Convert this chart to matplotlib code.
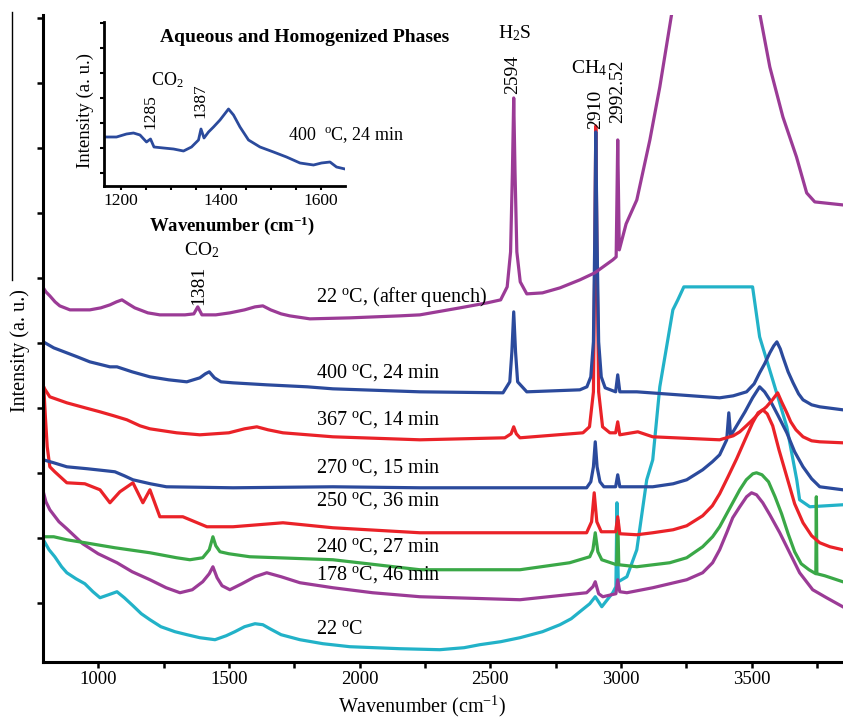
import matplotlib
matplotlib.use('Agg')
import matplotlib.pyplot as plt
from matplotlib.lines import Line2D

plt.rcParams['font.family'] = ['Liberation Serif', 'DejaVu Serif']
plt.rcParams['mathtext.fontset'] = 'custom'
plt.rcParams['mathtext.rm'] = 'Liberation Serif'
plt.rcParams['mathtext.it'] = 'Liberation Serif:italic'
plt.rcParams['mathtext.bf'] = 'Liberation Serif:bold'

# ---------------- data (wavenumber cm-1, intensity a.u.) ----------------
wn_quench = [790, 800, 815, 835, 853, 892, 968, 1010, 1045, 1070, 1091, 1115, 1140, 1190, 1236, 1332,
             1366, 1381, 1397, 1450, 1504, 1560, 1600, 1630, 1660, 1700, 1733, 1810, 1963, 2154,
             2231, 2384, 2488, 2540, 2565, 2578, 2585, 2590, 2595, 2602, 2615, 2640, 2700, 2767,
             2843, 2900, 2969, 2982, 2988, 2994, 3020, 3061, 3111, 3149, 3195, 3300, 3400, 3480,
             3531, 3570, 3620, 3672, 3711, 3742, 3849]
int_quench = [374, 370, 366, 360, 356, 352, 352, 354, 357, 360, 362, 358, 354, 349, 347, 347,
              348, 355, 347, 347, 349, 352, 355, 356, 352, 348, 346, 343, 344, 346,
              347, 354, 359, 362, 375, 410, 490, 564, 490, 410, 380, 368, 369, 374,
              382, 389, 402, 405, 522, 412, 438, 462, 522, 575, 649, 850, 900, 800,
              649, 595, 545, 505, 469, 460, 457]

wn_b400 = [790, 830, 880, 920, 968, 1045, 1072, 1130, 1198, 1270, 1339, 1389, 1410, 1425, 1445,
           1470, 1516, 1645, 1800, 1898, 2231, 2549, 2575, 2583, 2590, 2597, 2605, 2640, 2843,
           2870, 2885, 2895, 2900, 2904, 2909, 2915, 2925, 2940, 2980, 2988, 2996, 3061, 3378,
           3430, 3481, 3510, 3531, 3550, 3570, 3585, 3597, 3610, 3620, 3640, 3659, 3680, 3697,
           3730, 3761, 3849]
int_b400 = [320, 314, 309, 305, 300, 295, 295, 290, 285, 282, 280, 284, 288, 290, 284,
            280, 279, 277, 275, 273, 270, 269, 280, 310, 350, 310, 280, 270, 272,
            275, 285, 320, 420, 530, 420, 320, 285, 274, 270, 287, 270, 270, 264,
            266, 270, 278, 289, 298, 309, 316, 320, 313, 305, 290, 279, 268, 262,
            257, 255, 252]

wn_r367 = [790, 815, 880, 950, 1007, 1060, 1110, 1160, 1198, 1300, 1389, 1500, 1560, 1607, 1650,
           1707, 1898, 2231, 2556, 2580, 2590, 2600, 2614, 2855, 2880, 2895, 2900, 2904, 2909,
           2915, 2930, 2958, 2980, 2988, 2996, 3065, 3122, 3378, 3430, 3455, 3480, 3504, 3530,
           3557, 3580, 3600, 3615, 3635, 3650, 3670, 3697, 3730, 3761, 3849]
int_r367 = [275, 265, 259, 254, 250, 246, 242, 236, 233, 229, 227, 229, 233, 235, 232,
            229, 225, 222, 224, 228, 235, 228, 224, 229, 235, 270, 400, 536, 400,
            270, 235, 229, 229, 240, 227, 230, 225, 222, 226, 230, 236, 242, 249,
            255, 262, 269, 260, 249, 240, 232, 225, 221, 220, 219]

wn_b270 = [790, 830, 880, 960, 1030, 1064, 1100, 1133, 1200, 1261, 1516, 1898, 2231, 2869, 2885,
           2895, 2902, 2909, 2920, 2935, 2980, 2988, 2996, 3122, 3200, 3252, 3313, 3350, 3378,
           3405, 3413, 3420, 3443, 3475, 3504, 3531, 3550, 3570, 3600, 3635, 3665, 3697, 3730,
           3761, 3849]
int_b270 = [202, 199, 195, 193, 191, 190, 186, 182, 178, 175, 174, 175, 174, 174, 180,
            195, 220, 195, 180, 175, 175, 187, 175, 175, 178, 182, 192, 200, 207,
            222, 249, 226, 236, 250, 264, 275, 270, 262, 247, 229, 210, 195, 183,
            175, 172]

wn_r250 = [792, 798, 805, 815, 834, 880, 949, 1007, 1045, 1083, 1133, 1171, 1198, 1236, 1324,
           1416, 1516, 1707, 1898, 2231, 2869, 2888, 2898, 2908, 2925, 2980, 2988, 2996, 3061,
           3122, 3200, 3252, 3313, 3350, 3378, 3410, 3443, 3475, 3504, 3525, 3543, 3560, 3581,
           3605, 3635, 3665, 3697, 3730, 3761, 3800, 3849]
int_r250 = [274, 245, 215, 195, 190, 179, 178, 172, 159, 170, 179, 159, 172, 145, 145,
            135, 135, 139, 134, 129, 129, 140, 169, 140, 130, 130, 145, 128, 127,
            129, 132, 136, 146, 156, 168, 185, 203, 222, 239, 249, 252, 248, 236,
            212, 185, 158, 139, 126, 119, 115, 112]

wn_g240 = [790, 830, 880, 950, 1064, 1198, 1300, 1351, 1400, 1425, 1439, 1450, 1466, 1500, 1580,
           1898, 2231, 2614, 2804, 2881, 2893, 2902, 2912, 2927, 2984, 2988, 2992, 3061, 3187,
           3252, 3313, 3351, 3378, 3405, 3430, 3455, 3480, 3505, 3519, 3540, 3565, 3590, 3615,
           3640, 3665, 3690, 3720, 3746, 3748, 3750, 3780, 3849]
int_g240 = [125, 125, 122, 119, 114, 109, 104, 102, 104, 112, 125, 116, 110, 108, 105,
            102, 92, 92, 99, 105, 112, 129, 110, 102, 97, 142, 97, 95, 99,
            104, 115, 125, 135, 148, 160, 172, 182, 188, 189, 187, 180, 165, 148,
            128, 110, 98, 92, 88, 165, 88, 86, 80]

wn_p178 = [790, 800, 815, 850, 880, 941, 1000, 1072, 1130, 1198, 1260, 1313, 1360, 1400, 1425,
           1439, 1455, 1474, 1504, 1550, 1600, 1645, 1700, 1772, 1898, 2050, 2231, 2614, 2869,
           2893, 2902, 2915, 2931, 2981, 2988, 2996, 3023, 3122, 3252, 3313, 3351, 3378, 3405,
           3428, 3455, 3481, 3500, 3519, 3543, 3570, 3608, 3646, 3684, 3734, 3787, 3849]
int_p178 = [170, 160, 152, 140, 133, 118, 108, 99, 90, 82, 74, 69, 72, 80, 88,
            95, 84, 76, 72, 78, 85, 89, 85, 79, 74, 69, 65, 62, 69,
            75, 80, 68, 65, 68, 82, 70, 69, 74, 82, 89, 99, 112, 129,
            144, 155, 165, 169, 167, 159, 147, 129, 109, 89, 72, 64, 55]

wn_c22 = [790, 812, 834, 860, 880, 915, 949, 980, 1007, 1040, 1072, 1100, 1133, 1165, 1198,
          1240, 1294, 1340, 1389, 1447, 1490, 1523, 1560, 1600, 1630, 1657, 1700, 1772, 1860,
          1963, 2154, 2307, 2400, 2460, 2540, 2614, 2700, 2767, 2810, 2843, 2881, 2902, 2927,
          2969, 2981, 2985, 2990, 3023, 3061, 3099, 3122, 3149, 3199, 3218, 3241, 3504, 3531,
          3581, 3635, 3673, 3684, 3723, 3849]
int_c22 = [122, 112, 105, 95, 89, 83, 78, 70, 64, 67, 70, 64, 56, 48, 42,
           35, 30, 27, 24, 22, 26, 30, 35, 38, 37, 33, 27, 22, 18,
           15, 13, 12, 14, 17, 20, 24, 30, 37, 43, 50, 58, 65, 55,
           69, 75, 159, 80, 85, 112, 182, 202, 275, 352, 362, 375, 375, 325,
           282, 235, 182, 162, 155, 157]

# inset: 400 C, 24 min, CO2 region
wn_inset = [1169, 1192, 1212, 1226, 1239, 1252, 1260, 1267, 1286, 1306, 1326, 1342, 1356, 1361,
            1367, 1376, 1386, 1399, 1416, 1426, 1439, 1456, 1479, 1506, 1532, 1559, 1586, 1602,
            1619, 1632, 1649]
int_inset = [49, 49, 52, 53, 51, 44, 47, 39, 38, 37, 35, 39, 46, 57,
             48, 54, 59, 66, 77, 71, 59, 46, 39, 34, 29, 23, 21, 23,
             24, 19, 17]

deg = r'$^{\rm o}$C'
labels = ['22 ' + deg + ', (after quench)', '400 ' + deg + ', 24 min', '367 ' + deg + ', 14 min',
          '270 ' + deg + ', 15 min', '250 ' + deg + ', 36 min', '240 ' + deg + ', 27 min',
          '178 ' + deg + ', 46 min', '22 ' + deg]
label_levels = [365, 289, 242, 194, 161, 115, 87, 32]

PURPLE = '#9b3b96'
BLUE = '#2b4a9c'
RED = '#ea2228'
GREEN = '#3aa847'
CYAN = '#22b2c8'

W, H = 843, 721
fig = plt.figure(figsize=(W / 100, H / 100), dpi=100)


def fx(x):
    return x / W


def fy(y):
    return 1 - y / H


ax = fig.add_axes([fx(43.3), fy(661.7), 1 - fx(43.3), (661.7 - 15) / H])
lw = 2.3
ax.plot(wn_c22, int_c22, color=CYAN, lw=lw)
ax.plot(wn_p178, int_p178, color=PURPLE, lw=lw)
ax.plot(wn_g240, int_g240, color=GREEN, lw=lw)
ax.plot(wn_r250, int_r250, color=RED, lw=lw)
ax.plot(wn_b270, int_b270, color=BLUE, lw=lw)
ax.plot(wn_r367, int_r367, color=RED, lw=lw)
ax.plot(wn_b400, int_b400, color=BLUE, lw=lw)
ax.plot(wn_quench, int_quench, color=PURPLE, lw=lw)

ax.set_xlim(790, 3850)
ax.set_ylim(0, 647)
ax.set_xticks([1000, 1500, 2000, 2500, 3000, 3500])
ax.set_xticks([1250, 1750, 2250, 2750, 3250, 3750], minor=True)
ax.set_yticks([59 + 65 * k for k in range(10)])
ax.set_yticklabels([])
ax.tick_params(axis='both', which='both', direction='out', length=4, width=1.8, labelsize=13.5, pad=2.5)
for s in ['top', 'right']:
    ax.spines[s].set_visible(False)
for s in ['left', 'bottom']:
    ax.spines[s].set_linewidth(2.2)

fs = 14.5
for lab, lev in zip(labels, label_levels):
    ax.text(1835, lev, lab, fontsize=fs, ha='left', va='center')

ax.text(2592, 629, r'H$_2$S', fontsize=14, ha='center', va='center', clip_on=False)
ax.text(2587, 587, '2594', fontsize=14, rotation=90, ha='center', va='center')
ax.text(2877, 594, r'CH$_4$', fontsize=14, ha='center', va='center')
ax.text(2904, 553, '2910', fontsize=14, rotation=90, ha='center', va='center')
ax.text(2988, 571, '2992.52', fontsize=14, rotation=90, ha='center', va='center')
ax.text(1397, 412, r'CO$_2$', fontsize=14, ha='center', va='center')
ax.text(1386, 376, '1381', fontsize=14, rotation=90, ha='center', va='center')

fig.text(fx(20), fy(351), 'Intensity (a. u.)', rotation=90, fontsize=14.5, ha='center', va='center')
fig.text(fx(422), fy(706), r'Wavenumber (cm$^{-1}$)', fontsize=14.5, ha='center', va='center')

# artifact vertical line at far left
fig.add_artist(Line2D([fx(12), fx(12)], [fy(12), fy(280)], color='black', lw=1.0,
                      transform=fig.transFigure))

# ---------------- inset ----------------
axi = fig.add_axes([fx(104), fy(186), (345 - 104) / W, (186 - 22) / H])
axi.plot(wn_inset, int_inset, color=BLUE, lw=2.0)
axi.set_xlim(1167, 1649)
axi.set_ylim(0, 164)
axi.set_xticks([1200, 1400, 1600])
axi.set_xticks(list(range(1250, 1650, 50)), minor=True)
axi.set_yticks([13, 38, 63, 88, 113, 138, 163])
axi.set_yticklabels([])
axi.tick_params(axis='both', which='both', direction='out', length=3, width=1.5, labelsize=12.5, pad=2)
for s in ['top', 'right']:
    axi.spines[s].set_visible(False)
for s in ['left', 'bottom']:
    axi.spines[s].set_linewidth(2.0)
axi.patch.set_alpha(0)

axi.text(1293, 106, r'CO$_2$', fontsize=13, ha='center', va='center')
axi.text(1259, 74, '1285', fontsize=12.5, rotation=90, ha='center', va='center')
axi.text(1359, 85, '1387', fontsize=12.5, rotation=90, ha='center', va='center')
axi.text(1535, 51, '400  ' + deg + ', 24 min', fontsize=13, ha='left', va='center', clip_on=False)

fig.text(fx(305), fy(37), 'Aqueous and Homogenized Phases', fontsize=14, fontweight='bold',
         ha='center', va='center')
fig.text(fx(85), fy(110), 'Intensity (a. u.)', rotation=90, fontsize=13.5, ha='center', va='center')
fig.text(fx(232), fy(226), r'Wavenumber (cm$^{\mathbf{-1}}$)', fontsize=13.5, fontweight='bold',
         ha='center', va='center')

fig.savefig('out.png', dpi=100)
